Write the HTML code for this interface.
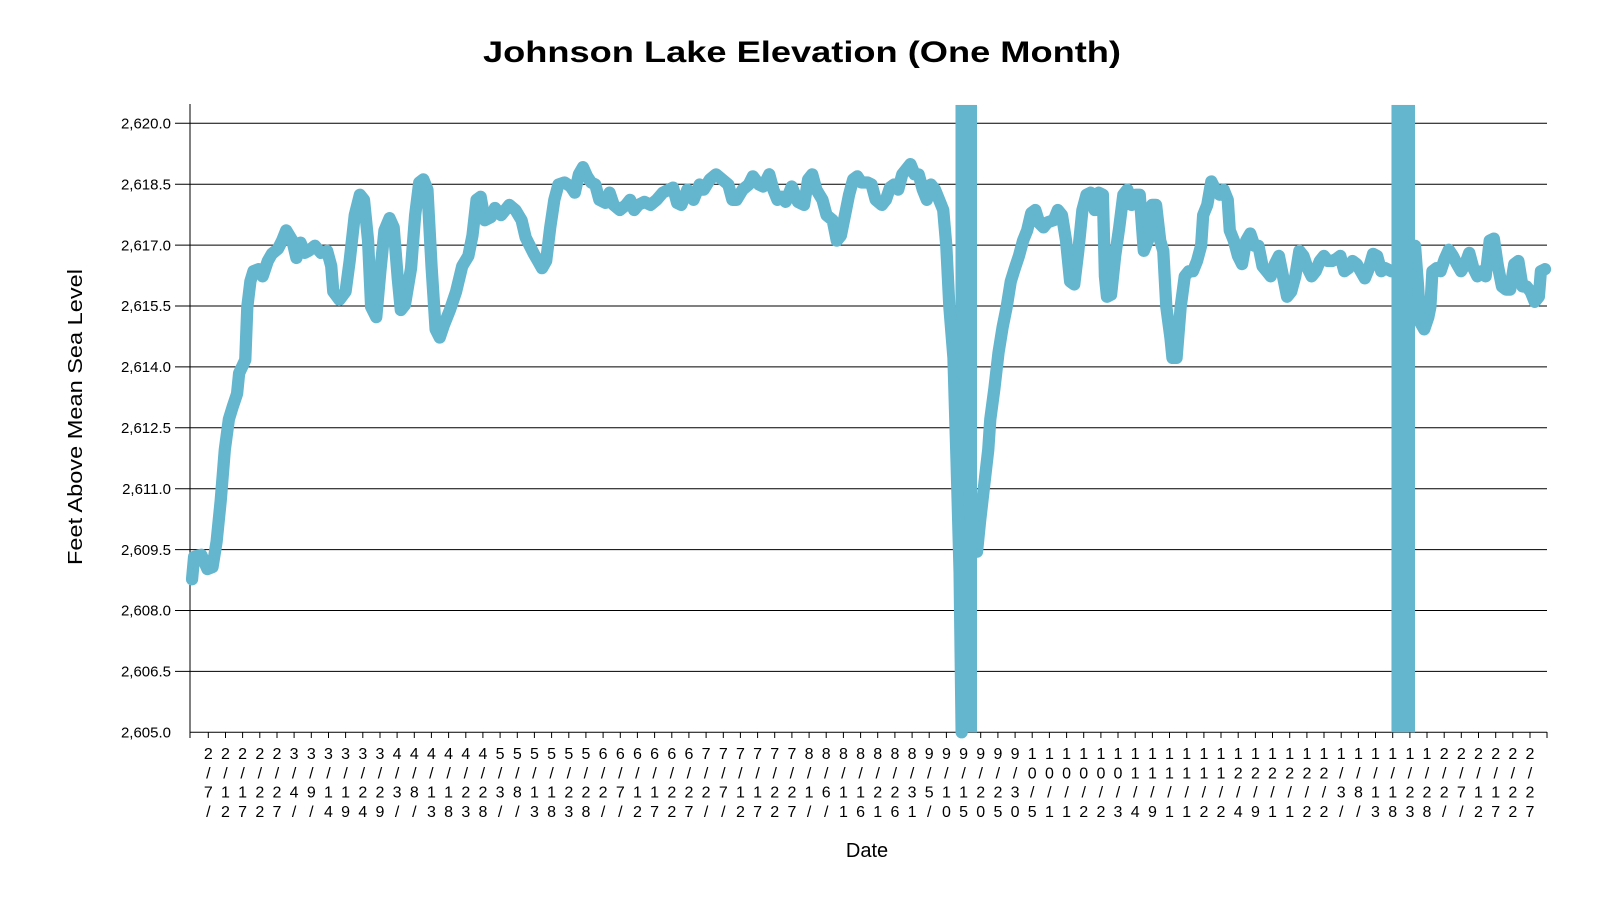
<!DOCTYPE html>
<html><head><meta charset="utf-8"><style>
html,body{margin:0;padding:0;background:#fff;}
svg{display:block;font-family:"Liberation Sans",Arial,sans-serif;}
</style></head><body>
<svg width="1600" height="900" viewBox="0 0 1600 900" xmlns="http://www.w3.org/2000/svg">
<rect width="1600" height="900" fill="#fff"/>
<text x="802" y="62" text-anchor="middle" font-size="30" font-weight="bold" textLength="638" lengthAdjust="spacingAndGlyphs">Johnson Lake Elevation (One Month)</text>
<g stroke="#000" stroke-width="1">
<line x1="175" x2="1547" y1="123.3" y2="123.3"/>
<line x1="175" x2="1547" y1="184.2" y2="184.2"/>
<line x1="175" x2="1547" y1="245.1" y2="245.1"/>
<line x1="175" x2="1547" y1="306" y2="306"/>
<line x1="175" x2="1547" y1="366.9" y2="366.9"/>
<line x1="175" x2="1547" y1="427.8" y2="427.8"/>
<line x1="175" x2="1547" y1="488.7" y2="488.7"/>
<line x1="175" x2="1547" y1="549.6" y2="549.6"/>
<line x1="175" x2="1547" y1="610.5" y2="610.5"/>
<line x1="175" x2="1547" y1="671.4" y2="671.4"/>
<line x1="190" x2="1547" y1="732.3" y2="732.3"/>
<line x1="190" x2="190" y1="104" y2="738"/>
<line x1="1547" x2="1547" y1="732" y2="738"/>
</g>
<path stroke="#000" stroke-width="1" d="M208.3 732v6M225.5 732v6M242.6 732v6M259.8 732v6M277 732v6M294.1 732v6M311.3 732v6M328.5 732v6M345.6 732v6M362.8 732v6M380 732v6M397.1 732v6M414.3 732v6M431.4 732v6M448.6 732v6M465.8 732v6M482.9 732v6M500.1 732v6M517.3 732v6M534.4 732v6M551.6 732v6M568.8 732v6M585.9 732v6M603.1 732v6M620.3 732v6M637.4 732v6M654.6 732v6M671.8 732v6M688.9 732v6M706.1 732v6M723.3 732v6M740.4 732v6M757.6 732v6M774.7 732v6M791.9 732v6M809.1 732v6M826.2 732v6M843.4 732v6M860.6 732v6M877.7 732v6M894.9 732v6M912.1 732v6M929.2 732v6M946.4 732v6M963.6 732v6M980.7 732v6M997.9 732v6M1015.1 732v6M1032.2 732v6M1049.4 732v6M1066.6 732v6M1083.7 732v6M1100.9 732v6M1118 732v6M1135.2 732v6M1152.4 732v6M1169.5 732v6M1186.7 732v6M1203.9 732v6M1221 732v6M1238.2 732v6M1255.4 732v6M1272.5 732v6M1289.7 732v6M1306.9 732v6M1324 732v6M1341.2 732v6M1358.4 732v6M1375.5 732v6M1392.7 732v6M1409.9 732v6M1427 732v6M1444.2 732v6M1461.3 732v6M1478.5 732v6M1495.7 732v6M1512.8 732v6M1530 732v6"/>
<g font-size="16" text-anchor="middle">
<text y="759" x="208.3 225.5 242.6 259.8 277 294.1 311.3 328.5 345.6 362.8 380 397.1 414.3 431.4 448.6 465.8 482.9 500.1 517.3 534.4 551.6 568.8 585.9 603.1 620.3 637.4 654.6 671.8 688.9 706.1 723.3 740.4 757.6 774.7 791.9 809.1 826.2 843.4 860.6 877.7 894.9 912.1 929.2 946.4 963.6 980.7 997.9 1015.1 1032.2 1049.4 1066.6 1083.7 1100.9 1118 1135.2 1152.4 1169.5 1186.7 1203.9 1221 1238.2 1255.4 1272.5 1289.7 1306.9 1324 1341.2 1358.4 1375.5 1392.7 1409.9 1427 1444.2 1461.3 1478.5 1495.7 1512.8 1530">222223333334444445555556666667777778888888999999111111111111111111111111222222</text>
<text y="778.3" x="208.3 225.5 242.6 259.8 277 294.1 311.3 328.5 345.6 362.8 380 397.1 414.3 431.4 448.6 465.8 482.9 500.1 517.3 534.4 551.6 568.8 585.9 603.1 620.3 637.4 654.6 671.8 688.9 706.1 723.3 740.4 757.6 774.7 791.9 809.1 826.2 843.4 860.6 877.7 894.9 912.1 929.2 946.4 963.6 980.7 997.9 1015.1 1032.2 1049.4 1066.6 1083.7 1100.9 1118 1135.2 1152.4 1169.5 1186.7 1203.9 1221 1238.2 1255.4 1272.5 1289.7 1306.9 1324 1341.2 1358.4 1375.5 1392.7 1409.9 1427 1444.2 1461.3 1478.5 1495.7 1512.8 1530">////////////////////////////////////////////////000000111111222222////////////</text>
<text y="797.6" x="208.3 225.5 242.6 259.8 277 294.1 311.3 328.5 345.6 362.8 380 397.1 414.3 431.4 448.6 465.8 482.9 500.1 517.3 534.4 551.6 568.8 585.9 603.1 620.3 637.4 654.6 671.8 688.9 706.1 723.3 740.4 757.6 774.7 791.9 809.1 826.2 843.4 860.6 877.7 894.9 912.1 929.2 946.4 963.6 980.7 997.9 1015.1 1032.2 1049.4 1066.6 1083.7 1100.9 1118 1135.2 1152.4 1169.5 1186.7 1203.9 1221 1238.2 1255.4 1272.5 1289.7 1306.9 1324 1341.2 1358.4 1375.5 1392.7 1409.9 1427 1444.2 1461.3 1478.5 1495.7 1512.8 1530">711224911223811223811222711222711221611223511223//////////////////381122271122</text>
<text y="816.9" x="208.3 225.5 242.6 259.8 277 294.1 311.3 328.5 345.6 362.8 380 397.1 414.3 431.4 448.6 465.8 482.9 500.1 517.3 534.4 551.6 568.8 585.9 603.1 620.3 637.4 654.6 671.8 688.9 706.1 723.3 740.4 757.6 774.7 791.9 809.1 826.2 843.4 860.6 877.7 894.9 912.1 929.2 946.4 963.6 980.7 997.9 1015.1 1032.2 1049.4 1066.6 1083.7 1100.9 1118 1135.2 1152.4 1169.5 1186.7 1203.9 1221 1238.2 1255.4 1272.5 1289.7 1306.9 1324 1341.2 1358.4 1375.5 1392.7 1409.9 1427 1444.2 1461.3 1478.5 1495.7 1512.8 1530">/2727//4949//3838//3838//2727//2727//16161/05050511223491122491122//3838//2727</text>
</g>
<g font-size="15" text-anchor="end">
<text x="171" y="128.5">2,620.0</text>
<text x="171" y="189.4">2,618.5</text>
<text x="171" y="250.3">2,617.0</text>
<text x="171" y="311.2">2,615.5</text>
<text x="171" y="372.1">2,614.0</text>
<text x="171" y="433">2,612.5</text>
<text x="171" y="493.9">2,611.0</text>
<text x="171" y="554.8">2,609.5</text>
<text x="171" y="615.7">2,608.0</text>
<text x="171" y="676.6">2,606.5</text>
<text x="171" y="737.5">2,605.0</text>
</g>
<text transform="translate(82,417) rotate(-90)" text-anchor="middle" font-size="20" textLength="296" lengthAdjust="spacingAndGlyphs">Feet Above Mean Sea Level</text>
<text x="867" y="857" text-anchor="middle" font-size="20">Date</text>
<g transform="matrix(1.0234 0 0 1.0201 -0.35 0.9)">
<rect x="934" y="102" width="21" height="615" fill="#64b5ce"/>
<rect x="1360" y="102" width="23" height="615" fill="#64b5ce"/>
<polyline fill="none" stroke="#64b5ce" stroke-width="12" stroke-linejoin="round" stroke-linecap="round" points="188,567 190,545 197,543 203,557 208,555 212,530 216,490 220,440 224,410 228,397 232,385 234,365 240,352 242,300 245,275 248,265 253,263 257,270 262,255 266,248 272,243 276,235 280,225 286,235 290,252 294,237 298,247 302,245 308,240 314,247 320,245 324,260 326,285 332,293 338,285 342,255 347,210 352,190 356,195 360,235 363,300 368,310 372,265 376,225 381,213 385,222 389,272 392,303 396,298 402,262 406,210 410,178 414,175 418,185 422,260 426,322 430,330 434,318 440,303 446,285 452,260 458,250 462,230 466,195 470,192 474,215 480,212 484,203 490,210 494,205 498,200 504,205 510,215 514,232 518,240 522,248 526,255 530,262 534,255 538,222 542,195 546,180 552,178 558,182 562,188 566,170 570,163 574,172 578,178 582,180 586,195 592,198 596,188 600,200 606,205 612,200 616,195 620,205 624,200 630,197 636,200 642,195 648,188 652,186 658,183 662,198 666,200 672,185 678,195 684,180 688,185 694,175 700,170 706,175 712,180 716,195 720,195 726,185 732,180 736,172 742,180 746,182 752,170 756,185 760,195 764,192 768,197 774,182 780,197 786,200 790,175 794,170 798,185 804,195 808,210 814,215 818,235 822,230 826,210 830,190 834,175 838,172 842,178 848,178 852,180 856,195 862,200 866,195 870,183 874,180 878,185 882,170 886,165 890,160 894,170 898,170 902,185 906,195 910,180 914,185 918,195 922,205 925,240 928,300 932,350 935,450 938,560 940,717"/>
<polyline fill="none" stroke="#64b5ce" stroke-width="12" stroke-linejoin="round" stroke-linecap="round" points="955,540 958,510 962,475 966,440 968,410 972,380 976,345 980,320 984,300 988,275 992,262 996,250 1000,235 1004,225 1008,208 1012,205 1016,218 1020,222 1024,217 1030,215 1034,205 1038,210 1042,235 1046,275 1050,278 1054,245 1058,205 1062,190 1066,188 1070,205 1074,188 1078,190 1080,270 1082,290 1086,288 1090,250 1094,222 1098,190 1102,185 1106,200 1110,190 1114,190 1118,245 1122,235 1126,200 1130,200 1134,235 1137,245 1140,300 1144,330 1146,350 1150,350 1154,300 1158,270 1162,265 1166,265 1170,255 1174,240 1176,210 1180,200 1184,177 1188,185 1192,190 1196,185 1200,195 1202,225 1206,235 1210,250 1214,258 1218,235 1222,228 1226,240 1230,240 1234,260 1238,265 1242,270 1246,258 1250,250 1254,270 1258,290 1262,285 1266,270 1270,245 1274,250 1278,262 1282,270 1286,265 1290,255 1294,250 1298,255 1302,255 1306,253 1310,250 1314,265 1318,262 1322,255 1326,258 1330,265 1334,272 1338,262 1342,248 1346,250 1350,265 1354,262 1360,265"/>
<polyline fill="none" stroke="#64b5ce" stroke-width="12" stroke-linejoin="round" stroke-linecap="round" points="1383,240 1386,280 1388,315 1392,322 1396,310 1398,300 1400,265 1404,262 1408,265 1412,253 1416,244 1420,250 1424,258 1428,265 1432,258 1436,247 1440,262 1444,270 1448,265 1452,270 1456,235 1460,233 1464,260 1468,280 1472,283 1476,283 1480,258 1484,255 1488,280 1492,280 1496,285 1500,295 1504,290 1506,265 1510,263"/>
</g>
</svg>
</body></html>
